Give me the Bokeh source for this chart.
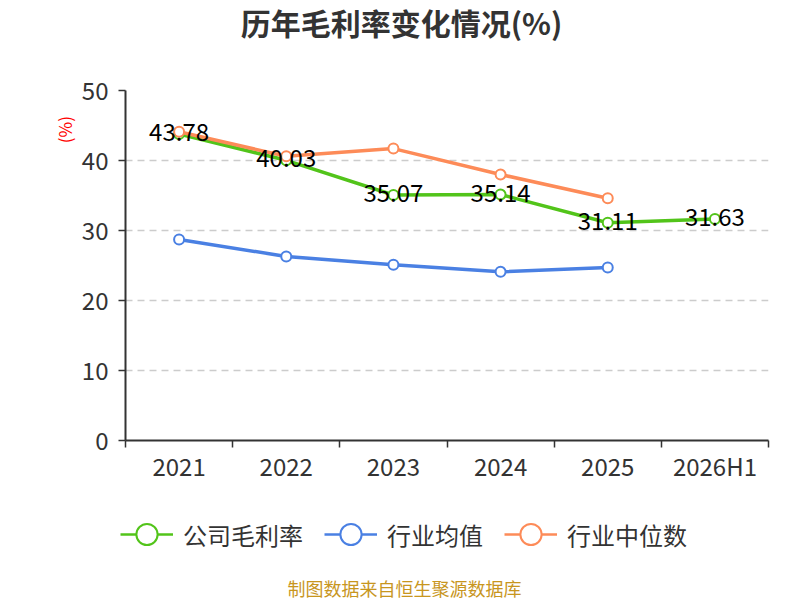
import numpy as np
from bokeh.plotting import figure
from bokeh.layouts import column, row
from bokeh.models import (ColumnDataSource, Legend, LegendItem, FixedTicker, Range1d, Label)
from bokeh.embed import file_html
from bokeh.resources import INLINE
from bokeh.core.properties import value

# ---- data ----
categories = ["2021", "2022", "2023", "2024", "2025", "2026H1"]
company = [43.78, 40.03, 35.07, 35.14, 31.11, 31.63]
industry_mean = [28.7, 26.3, 25.1, 24.1, 24.7]
industry_median = [44.1, 40.6, 41.7, 38.0, 34.6]
y_ticks = [0, 10, 20, 30, 40, 50]
series_names = ["公司毛利率", "行业均值", "行业中位数"]
title_text = "历年毛利率变化情况(%)"
unit_text = "(%)"
source_text = "制图数据来自恒生聚源数据库"

FONT = "Noto Sans CJK SC"
GREEN = "#52c41a"
BLUE = "#4a80e3"
ORANGE = "#fd8b58"
AXIS = "#333333"
COLORS = [GREEN, BLUE, ORANGE]

W = 800
TOP_H, MID_H, BOT_H = 60, 430, 110
UNIT_W = 76


def blank(width, height):
    f = figure(width=width, height=height, output_backend="svg", toolbar_location=None,
               x_range=Range1d(0, width), y_range=Range1d(0, height),
               x_axis_type=None, y_axis_type=None, min_border=0)
    f.outline_line_color = None
    f.grid.visible = False
    f.background_fill_color = "white"
    f.border_fill_color = "white"
    return f


# ---- title strip ----
p_title = blank(W, TOP_H)
p_title.add_layout(Label(x=401, y=TOP_H - 21, text=title_text, text_font=FONT,
                         text_font_size="30px", text_font_style="bold", text_color=AXIS,
                         text_align="center", text_baseline="middle"))

# ---- unit strip ----
p_unit = blank(UNIT_W, MID_H)
p_unit.add_layout(Label(x=64, y=MID_H - 48, text=unit_text, angle=np.pi / 2,
                        text_font=FONT, text_font_size="17px", text_color="red",
                        text_align="center", text_baseline="middle"))

# ---- main chart ----
xpos = list(range(len(categories)))
p = figure(width=W - UNIT_W, height=MID_H, output_backend="svg", toolbar_location=None,
           x_range=Range1d(-0.5, len(categories) - 0.5), y_range=Range1d(0, 50),
           min_border_left=125 - UNIT_W, min_border_right=32, min_border_top=30,
           min_border_bottom=50)
p.outline_line_color = None
p.background_fill_color = "white"
p.border_fill_color = "white"

xa = p.xaxis[0]
xa.ticker = FixedTicker(ticks=xpos, minor_ticks=[i - 0.5 for i in range(len(categories) + 1)])
xa.major_label_overrides = {i: c for i, c in zip(xpos, categories)}
xa.major_tick_line_color = None
xa.major_tick_out = 0
xa.major_tick_in = 0
xa.minor_tick_line_color = AXIS
xa.minor_tick_line_width = 1.5
xa.minor_tick_out = 7
xa.minor_tick_in = 0
xa.axis_line_color = AXIS
xa.axis_line_width = 2
xa.major_label_text_font = FONT
xa.major_label_text_font_size = "24px"
xa.major_label_text_color = AXIS
xa.major_label_standoff = 0

ya = p.yaxis[0]
ya.ticker = FixedTicker(ticks=y_ticks)
ya.minor_tick_line_color = None
ya.major_tick_line_color = AXIS
ya.major_tick_line_width = 1.5
ya.major_tick_out = 7
ya.major_tick_in = 0
ya.axis_line_color = AXIS
ya.axis_line_width = 2
ya.major_label_text_font = FONT
ya.major_label_text_font_size = "24px"
ya.major_label_text_color = AXIS
ya.major_label_standoff = 10

p.xgrid.visible = False
p.ygrid.grid_line_color = "#cccccc"
p.ygrid.grid_line_dash = "7 5"
p.ygrid.grid_line_width = 1.3

src_c = ColumnDataSource(dict(x=xpos, y=company, label=["%.2f" % v for v in company]))
src_m = ColumnDataSource(dict(x=xpos[:len(industry_mean)], y=industry_mean))
src_d = ColumnDataSource(dict(x=xpos[:len(industry_median)], y=industry_median))
sources = [src_c, src_m, src_d]

for src, col in zip(sources, COLORS):
    p.line("x", "y", source=src, line_color=col, line_width=3.5)
    p.scatter("x", "y", source=src, marker="circle", size=10,
              fill_color="white", line_color=col, line_width=2)

p.text("x", "y", text="label", source=src_c, text_font=value(FONT),
       text_font_size="24px", text_align="center", text_baseline="middle",
       text_color="black", y_offset=-2)

# ---- legend + source strip ----
p_bot = blank(W, BOT_H)
# legend renderers: the same series, mapped onto an off-screen range so only the
# legend swatches are visible in this strip
p_bot.extra_y_ranges = {"off": Range1d(1000, 1100)}
items = []
for name, src, col in zip(series_names, sources, COLORS):
    l = p_bot.line("x", "y", source=src, line_color=col, line_width=2.5, y_range_name="off")
    s = p_bot.scatter("x", "y", source=src, marker="circle", size=10, y_range_name="off",
                      fill_color="white", line_color=col, line_width=2)
    items.append(LegendItem(label=name, renderers=[l, s]))

legend = Legend(items=items, location=(120, 37), orientation="horizontal",
                glyph_width=53, glyph_height=58, label_standoff=10, spacing=21,
                padding=0, margin=0, border_line_color=None,
                background_fill_alpha=0,
                label_text_font=FONT, label_text_font_size="24px",
                label_text_color=AXIS)
p_bot.add_layout(legend, "center")

p_bot.add_layout(Label(x=404, y=13, text=source_text, text_font=FONT,
                       text_font_size="18px", text_color="#c8961e",
                       text_align="center", text_baseline="middle"))

layout = column(p_title, row(p_unit, p), p_bot, spacing=0)
open("out.html", "w").write(file_html(layout, INLINE))
